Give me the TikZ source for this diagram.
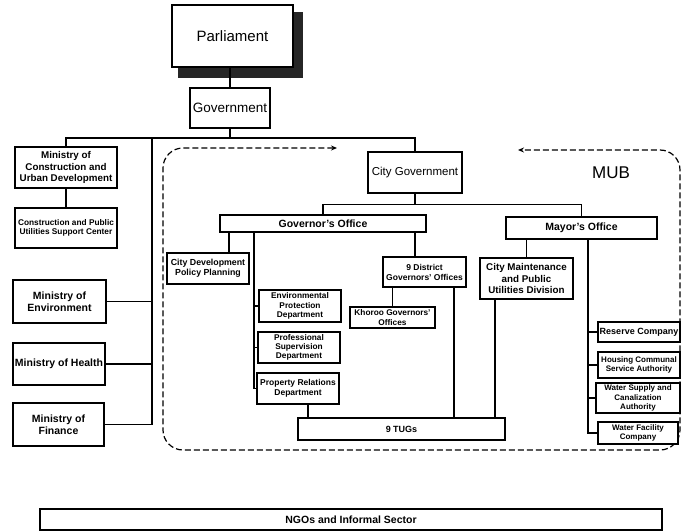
\documentclass[tikz,border=0pt]{standalone}
\usepackage{fontspec}
\setmainfont{Liberation Sans}
\usetikzlibrary{arrows.meta}
\begin{document}
\begin{tikzpicture}[x=1pt,y=-1pt,
  box/.style={draw, line width=1.2pt, fill=white, inner sep=1pt, align=center,
    font=\bfseries\fontsize{8}{9}\selectfont},
  conn/.style={line width=1.2pt},
  mubline/.style={line width=1.2pt, dash pattern=on 6pt off 3pt, rounded corners=20pt,
    arrows={Stealth[length=6pt,width=5pt]-Stealth[length=6pt,width=5pt]}}
]
\useasboundingbox (0,0) rectangle (682,532);

% MUB dashed region
\draw[mubline] (337,148) -- (163,148) -- (163,450) -- (680,450) -- (680,150) -- (518,150);
\node[font=\fontsize{17}{19}\selectfont] (mub) at (611,173) {MUB};

% Parliament with shadow
\fill[black!85] (178,12) rectangle (303,78);
\node[box, font=\fontsize{15}{17}\selectfont, line width=2pt, minimum width=121pt, minimum height=62pt] (parl) at (232.5,36) {Parliament};
\node[box, font=\fontsize{13.5}{15}\selectfont, minimum width=80pt, minimum height=40pt] (gov) at (230,108) {Government};
\node[box, font=\fontsize{11.5}{13}\selectfont, minimum width=94pt, minimum height=41pt] (cg) at (415,172.5) {City Government};

% Ministries
\node[box, font=\bfseries\fontsize{9.8}{11.5}\selectfont, minimum width=102pt, minimum height=41pt] (moc) at (66,167.5) {Ministry of\\Construction and\\Urban Development};
\node[box, font=\bfseries\fontsize{8.3}{9.5}\selectfont, minimum width=102pt, minimum height=40pt] (cpus) at (66,228) {Construction and Public\\Utilities Support Center};
\node[box, font=\bfseries\fontsize{10.5}{12.5}\selectfont, minimum width=93pt, minimum height=43pt] (moe) at (59.5,301.5) {Ministry of\\Environment};
\node[box, font=\bfseries\fontsize{10.5}{12.5}\selectfont, minimum width=92pt, minimum height=42pt] (moh) at (59,364) {Ministry of Health};
\node[box, font=\bfseries\fontsize{10.5}{12.5}\selectfont, minimum width=91pt, minimum height=43pt] (mof) at (58.5,424.5) {Ministry of\\Finance};

% Offices
\node[box, font=\bfseries\fontsize{10.5}{12}\selectfont, minimum width=206pt, minimum height=17pt] (gvo) at (323,223.5) {Governor's Office};
\node[box, font=\bfseries\fontsize{10.5}{12}\selectfont, minimum width=151pt, minimum height=22pt] (myo) at (581.5,228) {Mayor's Office};

% Governor's branch
\node[box, font=\bfseries\fontsize{8.8}{10}\selectfont, minimum width=82pt, minimum height=31pt] (cdpp) at (208,268.5) {City Development\\Policy Planning};
\node[box, font=\bfseries\fontsize{8.3}{9.3}\selectfont, minimum width=82pt, minimum height=32pt] (epd) at (300,306) {Environmental\\Protection\\Department};
\node[box, font=\bfseries\fontsize{8.3}{9.3}\selectfont, minimum width=82pt, minimum height=31pt] (psd) at (299,347.5) {Professional\\Supervision\\Department};
\node[box, font=\bfseries\fontsize{8.5}{10}\selectfont, minimum width=82pt, minimum height=31pt] (prd) at (298,388.5) {Property Relations\\Department};
\node[box, font=\bfseries\fontsize{8.5}{10}\selectfont, minimum width=83pt, minimum height=30pt] (dgo) at (424.5,272) {9 District\\Governors' Offices};
\node[box, font=\bfseries\fontsize{8.3}{9.3}\selectfont, minimum width=85pt, minimum height=21pt] (kgo) at (392.5,317.5) {Khoroo Governors'\\Offices};
\node[box, font=\bfseries\fontsize{9}{10}\selectfont, minimum width=207pt, minimum height=22pt] (tugs) at (401.5,429) {9 TUGs};

% Mayor's branch
\node[box, font=\bfseries\fontsize{9.8}{11.5}\selectfont, minimum width=93pt, minimum height=41pt] (cmp) at (526.5,278.5) {City Maintenance\\and Public\\Utilities Division};
\node[box, font=\bfseries\fontsize{9}{10}\selectfont, minimum width=82pt, minimum height=20pt] (rc) at (639,332) {Reserve Company};
\node[box, font=\bfseries\fontsize{8}{9.3}\selectfont, minimum width=82pt, minimum height=26pt] (hcs) at (639,365) {Housing Communal\\Service Authority};
\node[box, font=\bfseries\fontsize{8}{9.2}\selectfont, minimum width=84pt, minimum height=30pt] (wsc) at (638,398) {Water Supply and\\Canalization\\Authority};
\node[box, font=\bfseries\fontsize{8}{9.2}\selectfont, minimum width=80pt, minimum height=22pt] (wfc) at (638,433) {Water Facility\\Company};

% NGOs
\node[box, font=\bfseries\fontsize{10.5}{12}\selectfont, minimum width=622pt, minimum height=21pt] (ngo) at (351,519.5) {NGOs and Informal Sector};

% Connectors
\coordinate (topline) at (152,138);
\draw[conn] (gov.north) -- (gov.north |- parl.south);
\draw[conn] (gov.south) -- (gov.south |- topline);
\draw[conn] (moc.north) |- (topline) -| (cg.north);
\draw[conn] (topline) |- (mof.east);
\draw[conn] (moe.east) -- (moe.east -| topline);
\draw[conn] (moh.east) -- (moh.east -| topline);
\draw[conn] (moc.south) -- (cpus.north);

\draw[conn] (cg.south) -- ++(0,11.5);
\draw[conn] (gvo.north) -- ++(0,-10) -| (myo.north);

\draw[conn] ([xshift=21pt]cdpp.north) -- ([xshift=21pt]cdpp.north |- gvo.south);
\coordinate (gl) at ([xshift=-69pt]gvo.south);
\draw[conn] (gl) |- (prd.west);
\draw[conn] (epd.west) -- (epd.west -| gl);
\draw[conn] (psd.west) -- (psd.west -| gl);
\draw[conn] ([xshift=-9.5pt]dgo.north) -- ([xshift=-9.5pt]dgo.north |- gvo.south);
\draw[conn] (kgo.north) -- (kgo.north |- dgo.south);
\draw[conn] ([xshift=29.5pt]dgo.south) -- ([xshift=29.5pt]dgo.south |- tugs.north);
\draw[conn] ([xshift=10pt]prd.south) -- ([xshift=10pt]prd.south |- tugs.north);

\draw[conn] (cmp.north) -- (cmp.north |- myo.south);
\draw[conn] ([xshift=-31.5pt]cmp.south) -- ([xshift=-31.5pt]cmp.south |- tugs.north);
\coordinate (mr) at ([xshift=6.5pt]myo.south);
\draw[conn] (mr) |- (wfc.west);
\draw[conn] (rc.west) -- (rc.west -| mr);
\draw[conn] (hcs.west) -- (hcs.west -| mr);
\draw[conn] (wsc.west) -- (wsc.west -| mr);
\end{tikzpicture}
\end{document}
